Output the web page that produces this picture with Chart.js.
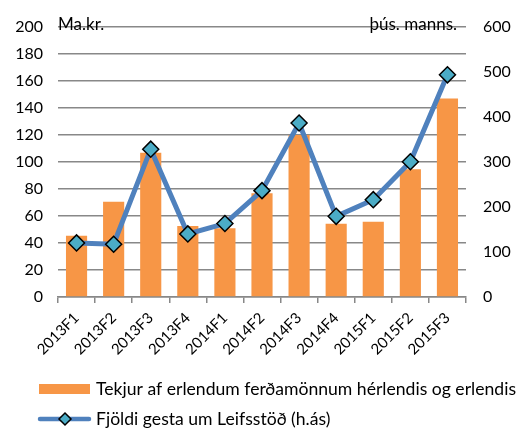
<!DOCTYPE html>
<html>
<head>
<meta charset="utf-8">
<script src="https://cdn.jsdelivr.net/npm/chart.js@4"></script>
<style>
  html, body { margin: 0; padding: 0; background: #fff; }
  #wrap { width: 531px; height: 430px; }
</style>
</head>
<body>
<div id="wrap"><canvas id="chart" width="531" height="430"></canvas></div>
<script>
const categories = ["2013F1", "2013F2", "2013F3", "2013F4", "2014F1", "2014F2", "2014F3", "2014F4", "2015F1", "2015F2", "2015F3"];
const tekjur = [45.3, 70.4, 106.7, 52.5, 50.8, 76.8, 119.8, 54.2, 55.6, 94.5, 146.8];
const gestir = [120, 117, 328, 140, 163, 236, 386, 179, 216, 300, 493];
const leftTicks = [0, 20, 40, 60, 80, 100, 120, 140, 160, 180, 200];
const rightTicks = [0, 100, 200, 300, 400, 500, 600];

const ORANGE = "#F79646";
const BLUE = "#4F81BD";
const CYAN = "#4BACC6";
const GRID = "#888888";
const FONT = "Lato, 'Liberation Sans', sans-serif";

// titlar á ásum og sérsmíðuð skýring neðst
const extras = {
  id: "extras",
  afterDraw(chart) {
    const ctx = chart.ctx;
    const area = chart.chartArea;
    const lineSet = chart.data.datasets[0];
    const barSet = chart.data.datasets[1];
    ctx.save();
    ctx.fillStyle = "#000";
    ctx.font = "17px " + FONT;
    ctx.textBaseline = "alphabetic";
    ctx.textAlign = "left";
    ctx.fillText("Ma.kr.", area.left, area.top + 3);
    ctx.textAlign = "right";
    ctx.fillText("þús. manns.", area.right - 9, area.top + 3);

    // skýring
    ctx.textAlign = "left";
    ctx.textBaseline = "middle";
    ctx.font = "17.6px " + FONT;
    ctx.fillStyle = ORANGE;
    ctx.fillRect(39, 384, 51, 10);
    ctx.fillStyle = "#000";
    ctx.fillText(barSet.label, 96, 389);

    ctx.strokeStyle = BLUE;
    ctx.lineWidth = 4.5;
    ctx.lineCap = "round";
    ctx.beginPath();
    ctx.moveTo(40, 419);
    ctx.lineTo(89, 419);
    ctx.stroke();
    ctx.beginPath();
    ctx.moveTo(65, 413);
    ctx.lineTo(71, 419);
    ctx.lineTo(65, 425);
    ctx.lineTo(59, 419);
    ctx.closePath();
    ctx.fillStyle = CYAN;
    ctx.fill();
    ctx.strokeStyle = "#000";
    ctx.lineWidth = 1.5;
    ctx.stroke();
    ctx.fillStyle = "#000";
    ctx.fillText(lineSet.label, 96, 419);
    ctx.restore();
  }
};

new Chart(document.getElementById("chart"), {
  type: "bar",
  data: {
    labels: categories,
    datasets: [
      {
        type: "line",
        label: "Fjöldi gesta um Leifsstöð (h.ás)",
        data: gestir,
        yAxisID: "y1",
        borderColor: BLUE,
        borderWidth: 5,
        pointStyle: "rectRot",
        pointRadius: 8,
        pointBackgroundColor: CYAN,
        pointBorderColor: "#000",
        pointBorderWidth: 1.5,
        tension: 0,
        order: 0
      },
      {
        label: "Tekjur af erlendum ferðamönnum hérlendis og erlendis",
        data: tekjur,
        yAxisID: "y",
        backgroundColor: ORANGE,
        barPercentage: 0.57,
        categoryPercentage: 1,
        order: 1
      }
    ]
  },
  options: {
    responsive: false,
    animation: false,
    layout: { padding: { top: 23, left: 0, right: 0, bottom: 0 } },
    plugins: {
      legend: { display: false },
      tooltip: { enabled: false }
    },
    scales: {
      x: {
        offset: true,
        grid: { offset: true, drawOnChartArea: false, drawTicks: true, tickLength: 6, color: GRID, lineWidth: 1.5 },
        border: { color: GRID, width: 1.5 },
        ticks: { color: "#000", font: { family: FONT, size: 15 }, minRotation: 45, maxRotation: 45, padding: 6 },
        afterFit(s) { s.height = 133; }
      },
      y: {
        position: "left",
        min: 0, max: 200,
        afterBuildTicks(s) { s.ticks = leftTicks.map(v => ({ value: v })); },
        grid: { color: GRID, lineWidth: 1.5, drawTicks: false },
        border: { display: false },
        ticks: { color: "#000", font: { family: FONT, size: 16 }, padding: 15 },
        afterFit(s) { s.width = 58; }
      },
      y1: {
        position: "right",
        min: 0, max: 600,
        afterBuildTicks(s) { s.ticks = rightTicks.map(v => ({ value: v })); },
        grid: { drawOnChartArea: false, drawTicks: false },
        border: { display: false },
        ticks: { color: "#000", font: { family: FONT, size: 16 }, padding: 17 },
        afterFit(s) { s.width = 65; }
      }
    }
  },
  plugins: [extras]
});
</script>
</body>
</html>
